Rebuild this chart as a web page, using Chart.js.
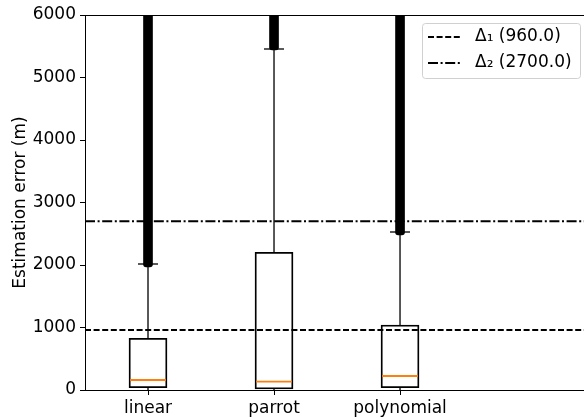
<!DOCTYPE html>
<html>
<head>
<meta charset="utf-8">
<script src="https://cdn.jsdelivr.net/npm/chart.js@4/dist/chart.umd.min.js"></script>
<style>
  html, body { margin: 0; padding: 0; background: #fff; }
  #wrap { width: 584px; height: 419px; }
</style>
</head>
<body>
<div id="wrap"><canvas id="myChart" width="584" height="419"></canvas></div>
<script>
// box plot values (metres)
var categories = ["linear", "parrot", "polynomial"];
var positions = [1, 2, 3];
var q1 = [37, 16, 37];
var median = [160, 133, 224];
var q3 = [827, 2203, 1040];
var whiskerLow = [0, 0, 0];
var whiskerHigh = [2016, 5456, 2528];
var outlierLow = [1968, 5440, 2480];
var outlierHigh = [6000, 6000, 6000];

var thresholds = [960, 2700];
var thresholdLabels = ["Δ\u2081 (960.0)", "Δ\u2082 (2700.0)"];

var xMin = 0.5, xMax = 4.46;
var yMin = 0, yMax = 6000;
var yStep = 1000;

Chart.defaults.font.family = "'DejaVu Sans', sans-serif";
Chart.defaults.font.size = 17;
Chart.defaults.color = "#000";

var whiskerPts = [];
positions.forEach(function (p, i) {
  whiskerPts.push({ x: p, y: q3[i] }, { x: p, y: whiskerHigh[i] }, { x: p, y: null });
  whiskerPts.push({ x: p, y: q1[i] }, { x: p, y: whiskerLow[i] }, { x: p, y: null });
});

// top spine and a matplotlib-style legend in the upper right corner
var extras = {
  id: "extras",
  afterDraw: function (chart) {
    var c = chart.ctx, a = chart.chartArea;
    c.save();
    c.strokeStyle = "#000";
    c.lineWidth = 1;
    c.beginPath();
    c.moveTo(a.left, a.top + 0.5);
    c.lineTo(a.right, a.top + 0.5);
    c.stroke();

    var bx = 422, by = 23, bw = 158, bh = 55;
    c.fillStyle = "rgba(255,255,255,0.8)";
    c.strokeStyle = "#d0d0d0";
    c.beginPath();
    c.roundRect(bx + 0.5, by + 0.5, bw, bh, 3);
    c.fill();
    c.stroke();

    c.font = "17px 'DejaVu Sans', sans-serif";
    c.textBaseline = "middle";
    c.fillStyle = "#000";
    [0, 1].forEach(function (k) {
      var ds = chart.data.datasets[k];
      var yy = by + 14 + k * 26;
      c.strokeStyle = "#000";
      c.lineWidth = ds.borderWidth;
      c.setLineDash(ds.borderDash);
      c.beginPath();
      c.moveTo(bx + 6, yy);
      c.lineTo(bx + 40, yy);
      c.stroke();
      c.setLineDash([]);
      c.fillText(ds.label, bx + 53, yy);
    });
    c.restore();
  }
};

var ctx = document.getElementById("myChart").getContext("2d");
var myChart = new Chart(ctx, {
  data: {
    datasets: [
      {
        type: "line",
        label: thresholdLabels[0],
        data: [{ x: xMin, y: thresholds[0] }, { x: xMax, y: thresholds[0] }],
        borderColor: "#000",
        borderWidth: 2,
        borderDash: [6, 2.6],
        pointRadius: 0,
        order: 0
      },
      {
        type: "line",
        label: thresholdLabels[1],
        data: [{ x: xMin, y: thresholds[1] }, { x: xMax, y: thresholds[1] }],
        borderColor: "#000",
        borderWidth: 2,
        borderDash: [10, 2.6, 2, 2.6],
        pointRadius: 0,
        order: 0
      },
      {
        type: "line",
        label: "whiskers",
        data: whiskerPts,
        borderColor: "#000",
        borderWidth: 1.3,
        pointRadius: 0,
        spanGaps: false,
        order: 5
      },
      {
        type: "bar",
        label: "boxes",
        data: positions.map(function (p, i) { return { x: p, y: [q1[i], q3[i]] }; }),
        backgroundColor: "rgba(0,0,0,0)",
        borderColor: "#000",
        borderWidth: 1.2,
        borderSkipped: false,
        barThickness: 38,
        grouped: false,
        order: 3
      },
      {
        type: "bar",
        label: "outliers",
        data: positions.map(function (p, i) { return { x: p, y: [outlierLow[i], outlierHigh[i]] }; }),
        backgroundColor: "#000",
        borderWidth: 0,
        barThickness: 9,
        borderRadius: 3,
        borderSkipped: "end",
        grouped: false,
        order: 4
      },
      {
        type: "scatter",
        label: "caps",
        data: positions.map(function (p, i) { return { x: p, y: whiskerHigh[i] }; }),
        pointStyle: "line",
        pointRadius: 10,
        borderColor: "#000",
        borderWidth: 1.3,
        order: 2
      },
      {
        type: "scatter",
        label: "medians",
        data: positions.map(function (p, i) { return { x: p, y: median[i] }; }),
        pointStyle: "line",
        pointRadius: 18,
        borderColor: "#ff7f0e",
        borderWidth: 1.8,
        order: 1
      }
    ]
  },
  options: {
    responsive: false,
    animation: false,
    layout: { autoPadding: false, padding: { top: 15, right: 0, left: 0, bottom: 0 } },
    plugins: {
      tooltip: { enabled: false },
      legend: { display: false }
    },
    scales: {
      x: {
        type: "linear",
        offset: false,
        min: xMin,
        max: xMax,
        afterBuildTicks: function (scale) {
          scale.ticks = positions.map(function (p) { return { value: p }; });
        },
        afterFit: function (scale) {
          scale.height = 29;
          scale.paddingLeft = 0;
          scale.paddingRight = 0;
        },
        ticks: {
          callback: function (v) { return categories[positions.indexOf(v)]; },
          padding: 3,
          maxRotation: 0
        },
        grid: { offset: false, drawOnChartArea: false, drawTicks: true, tickLength: 5, color: "#000" },
        border: { color: "#000" }
      },
      y: {
        min: yMin,
        max: yMax,
        afterFit: function (scale) { scale.width = 85; },
        ticks: {
          stepSize: yStep,
          padding: 4,
          callback: function (v) { return String(v); }
        },
        title: { display: true, text: "Estimation error (m)", padding: { top: 10, bottom: 0 } },
        grid: { drawOnChartArea: false, drawTicks: true, tickLength: 5, color: "#000" },
        border: { color: "#000" }
      }
    }
  },
  plugins: [extras]
});
</script>
</body>
</html>
